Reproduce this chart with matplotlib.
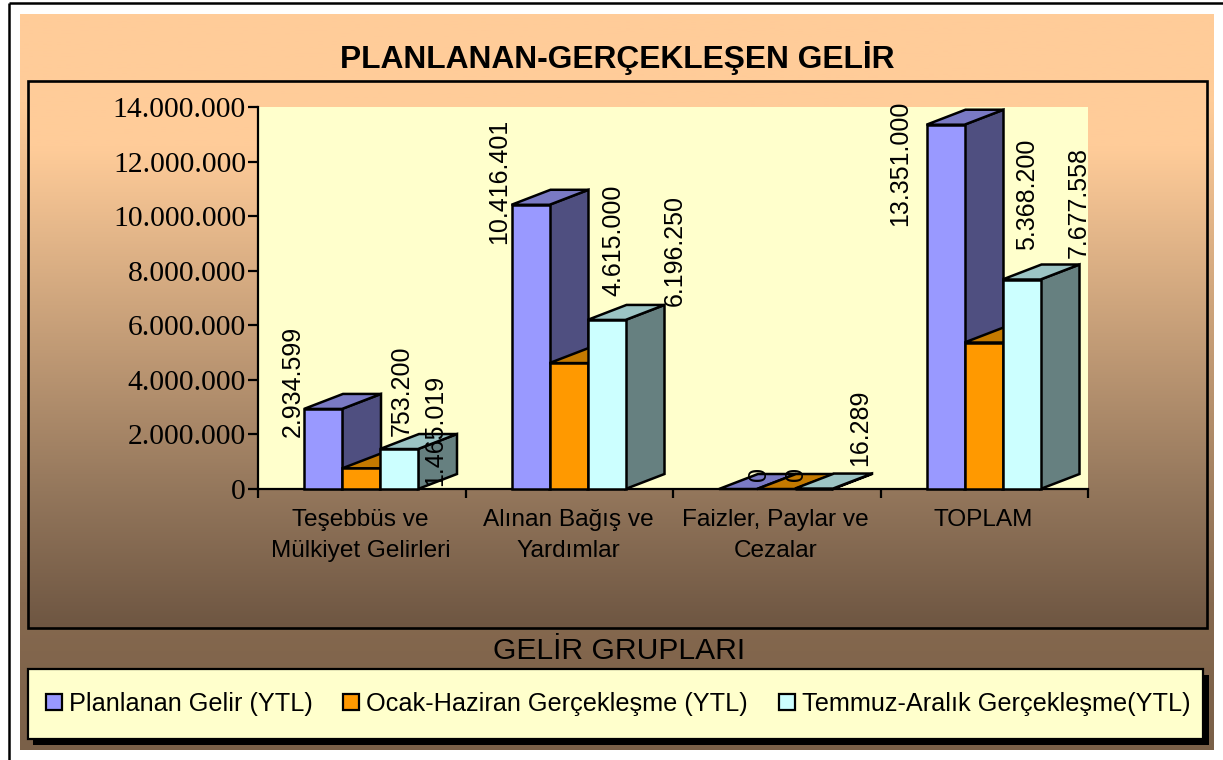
import matplotlib
matplotlib.use("Agg")
import matplotlib.pyplot as plt
import numpy as np
from matplotlib.patches import Polygon, Rectangle
from matplotlib.colors import LinearSegmentedColormap

title = "PLANLANAN-GERÇEKLEŞEN GELİR"
xlabel = "GELİR GRUPLARI"
categories = ["Teşebbüs ve\nMülkiyet Gelirleri", "Alınan Bağış ve\nYardımlar",
              "Faizler, Paylar ve\nCezalar", "TOPLAM"]
series_names = ["Planlanan Gelir (YTL)", "Ocak-Haziran Gerçekleşme (YTL)",
                "Temmuz-Aralık Gerçekleşme(YTL)"]
planlanan = [2934599, 10416401, 0, 13351000]
ocak_haziran = [753200, 4615000, 0, 5368200]
temmuz_aralik = [1465019, 6196250, 16289, 7677558]
yticks = [0, 2000000, 4000000, 6000000, 8000000, 10000000, 12000000, 14000000]
ytick_labels = ["0", "2.000.000", "4.000.000", "6.000.000", "8.000.000",
                "10.000.000", "12.000.000", "14.000.000"]
point_labels = [["2.934.599", "10.416.401", "0", "13.351.000"],
                ["753.200", "4.615.000", "0", "5.368.200"],
                ["1.465.019", "6.196.250", "16.289", "7.677.558"]]

front = ["#9999FF", "#FF9900", "#CCFFFF"]
top = ["#7A7AC4", "#C47A00", "#9CC4C4"]
side = ["#4F4F80", "#805000", "#668080"]
W, H = 1223, 760
fig = plt.figure(figsize=(W / 100, H / 100), dpi=100, facecolor="white")
sans = "Liberation Sans"
serif = "Liberation Serif"
pt = 0.72

# full-figure canvas in pixels for the chart furniture
bg = fig.add_axes([0, 0, 1, 1], zorder=0)
bg.axis("off")

def gradient(x0, x1, y0, y1, stops, z):
    cmap = LinearSegmentedColormap.from_list("g", stops)
    g = np.linspace(0, 1, 256).reshape(-1, 1)
    bg.imshow(g, cmap=cmap, extent=(x0, x1, y1, y0), aspect="auto", zorder=z, vmin=0, vmax=1)

gradient(20, 1214, 14, 750, [(0, "#FFCC99"), (0.12, "#FFCC99"), (0.80, "#86694F"), (1, "#7A6048")], 1)
gradient(28, 1207, 81, 628, [(0, "#FFCC99"), (0.12, "#FFCC99"), (0.75, "#94775C"), (1, "#6E5642")], 2)
bg.set_xlim(0, W); bg.set_ylim(H, 0)
bg.add_patch(Rectangle((28, 81), 1179, 547, fill=False, ec="black", lw=1.9, zorder=3))
bg.plot([9, 9], [2.5, 760], color="black", lw=1.8, zorder=3, solid_capstyle="butt")
bg.plot([9, 1223], [2.5, 2.5], color="black", lw=1.8, zorder=3, solid_capstyle="butt")

# legend box
bg.add_patch(Rectangle((33, 675), 1176, 70, fc="black", ec="none", zorder=4))
bg.add_patch(Rectangle((28, 669), 1175, 70, fc="#FFFFCC", ec="black", lw=1.6, zorder=5))
legend_x = [46, 343, 779]
for name, x, c in zip(series_names, legend_x, front):
    bg.add_patch(Rectangle((x, 694), 16, 16, fc=c, ec="black", lw=1.6, zorder=6))
    bg.text(x + 23, 704, name, fontsize=25.3 * pt, family=sans, va="center", ha="left", zorder=6)

bg.text(617, 58, title, fontsize=31.8 * pt, family=sans, weight="bold", ha="center", va="center", zorder=6)
bg.text(619, 651, xlabel, fontsize=30 * pt, family=sans, ha="center", va="center", zorder=6)

# plot axes
ax = fig.add_axes([258 / W, 1 - 489 / H, 830 / W, 382 / H], zorder=2, facecolor="#FFFFCC")
ax.set_xlim(0, 4)
ax.set_ylim(0, 14000000)
for s in ["top", "right"]:
    ax.spines[s].set_visible(False)
for s in ["left", "bottom"]:
    ax.spines[s].set_linewidth(1.6)
ax.set_yticks(yticks, ytick_labels, fontsize=29.6 * pt, family=serif)
ax.tick_params(axis="y", length=7.2, width=1.6, pad=1.4, direction="out")
ax.set_xticks(range(5), [""] * 5)
ax.tick_params(axis="x", length=6.5, width=1.6)
for i, c in enumerate(categories):
    ax.annotate(c, (i + 0.5, 0), xytext=(-1, -20), textcoords="offset pixels", ha="center", va="top",
                fontsize=24.4 * pt, family=sans, linespacing=1.52)

bar_w = 38 / 207.5
margin = 46 / 207.5
ddx = 39 / 207.5
ddy = 15 / (382 / 14000000)
lw = 1.8

series = [planlanan, ocak_haziran, temmuz_aralik]
for s, vals in enumerate(series):
    for i, v in enumerate(vals):
        x0 = i + margin + s * bar_w
        x1 = x0 + bar_w
        z = 3 + s
        kw = dict(ec="black", lw=lw, clip_on=False, zorder=z, joinstyle="miter")
        ax.add_patch(Polygon([(x1, 0), (x1 + ddx, ddy), (x1 + ddx, v + ddy), (x1, v)], fc=side[s], **kw))
        ax.add_patch(Polygon([(x0, v), (x1, v), (x1 + ddx, v + ddy), (x0 + ddx, v + ddy)], fc=top[s], **kw))
        if v > 0:
            ax.add_patch(Polygon([(x0, 0), (x1, 0), (x1, v), (x0, v)], fc=front[s], **kw))

# label offsets from each bar's front-left top corner, in pixels (right, up)
label_dx = [[-11, -12, 40, -26], [60, 64, 39, 63], [55, 87, 65, 76]]
label_dy = [[27, 23, 15, -39], [78, 123, 15, 148], [19, 69, 61, 77]]
for s, vals in enumerate(series):
    for i, v in enumerate(vals):
        x0 = i + margin + s * bar_w
        ax.annotate(point_labels[s][i], (x0, v), xytext=(label_dx[s][i], label_dy[s][i]),
                    textcoords="offset pixels", rotation=90, ha="center", va="center",
                    fontsize=25 * pt, family=sans, zorder=10, annotation_clip=False)

fig.savefig("out.png", dpi=100, facecolor="white")
